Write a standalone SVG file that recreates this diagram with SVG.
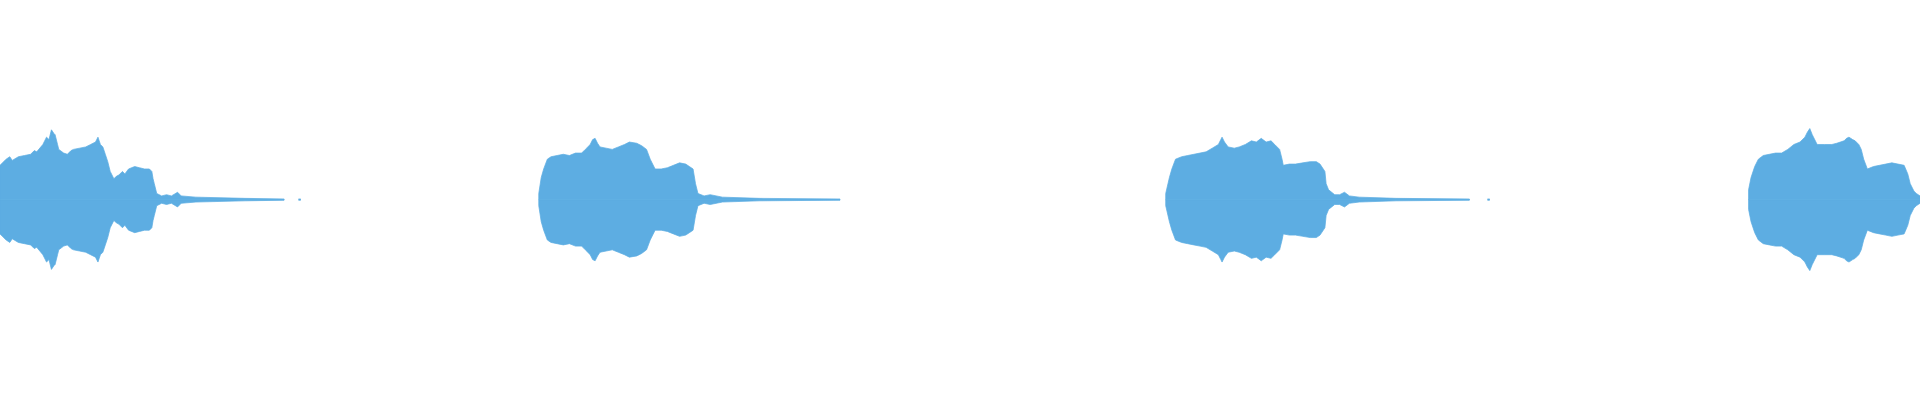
<svg xmlns="http://www.w3.org/2000/svg" width="1920" height="400" viewBox="0 0 1920 400">
<style>.w{fill:#5DADE2;stroke:#5DADE2;stroke-width:0.6;stroke-linejoin:miter}</style>
<defs>
<path id="h1" d="M0,163 L0,135 5,130 8,128 10,131 15,128 20,127 25,126 28,123 30,124 35,118 38,112 40,114 42,106 44,109 45,110 47,118 48,122 52,125 55,126 58,123 60,122 65,121 70,120 74,118 78,116 80,112 82,118 84,120 86,126 88,132 90,140 93,146 95,144 97,143 100,140 102,142 105,138 110,136 114,137 118,138 122,138 124,140 125,146 126,150 128,158 132,160 136,159 140,160 145,157 148,160 160,161 200,162 232,162.5 232,163 Z"/>
<path id="h2" d="M440,163 L440,158 442,145 444,138 447,130 450,128 455,127 460,126 465,127 470,125 475,125 478,122 482,118 484,114 486,113 488,117 490,120 495,121 500,122 505,120 510,118 514,116 520,117 524,119 528,122 531,130 535,138 540,138 545,137 550,135 555,133 560,134 563,136 566,138 568,150 570,158 575,160 580,159 590,161 620,162 686,162.5 686,163 Z"/>
<path id="h3" d="M952,163 L952,158 955,145 957,138 960,130 965,128 970,127 975,126 980,125 985,124 990,121 995,118 997,114 998,112 1000,116 1003,120 1008,121 1012,120 1017,118 1022,115 1026,116 1030,113 1034,116 1038,115 1041,118 1045,122 1047,130 1048,135 1053,134 1058,134 1064,133 1070,132 1075,132 1078,134 1082,140 1083,150 1085,155 1090,159 1094,159 1098,157 1102,160 1110,161 1140,162 1200,162.5 1200,163 Z"/>
<path id="h4" d="M1428,163 L1428,155 1430,145 1433,136 1436,130 1440,127 1445,126 1450,125 1455,125 1460,122 1465,118 1470,116 1474,112 1476,108 1478,105 1480,110 1484,118 1490,118 1496,118 1500,117 1506,115 1508,113 1510,112 1513,114 1515,115 1518,118 1520,122 1522,130 1525,138 1530,136 1535,135 1540,134 1545,133 1550,134 1555,135 1558,142 1560,150 1563,156 1565,158 1568,160 1568,163 Z"/>
</defs>
<g transform="scale(1.2245)">
<g class="w">
<use href="#h1"/><use href="#h1" transform="matrix(1,0,0,-1,0,326)"/>
<use href="#h2"/><use href="#h2" transform="matrix(1,0,0,-1,0,326)"/>
<use href="#h3"/><use href="#h3" transform="matrix(1,0,0,-1,0,326)"/>
<use href="#h4"/><use href="#h4" transform="matrix(1,0,0,-1,0,326)"/>
<rect x="244" y="162.5" width="1.5" height="1"/>
<rect x="1215" y="162.5" width="1.5" height="1"/>
</g>
</g>
</svg>
